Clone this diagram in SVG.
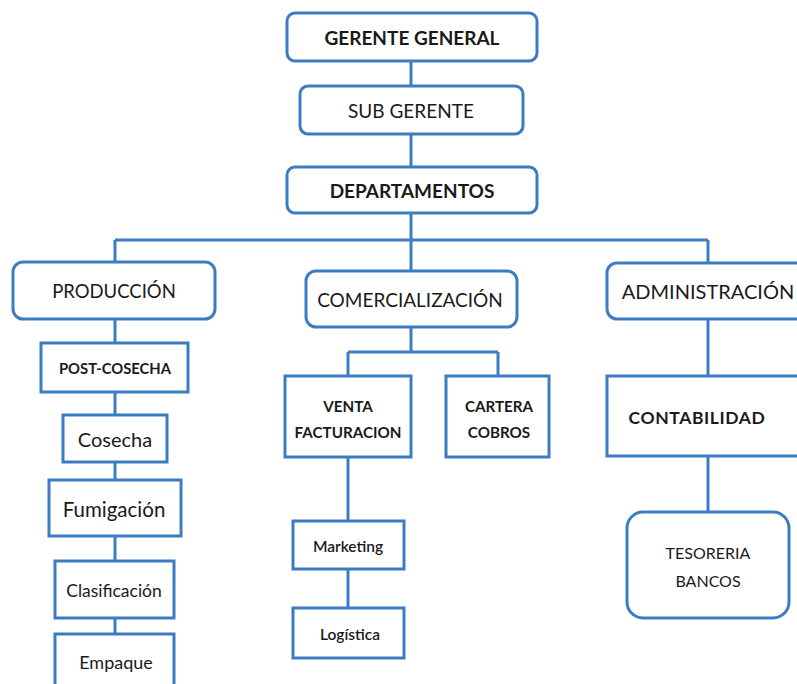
<svg xmlns="http://www.w3.org/2000/svg" width="797" height="684" viewBox="0 0 797 684">
<style>
.box{fill:#fff;stroke:#3b7cc3;stroke-width:3}
.ln{fill:none;stroke:#3b7cc3;stroke-width:3}
text{font-family:Lato,"Open Sans","Liberation Sans",sans-serif;fill:#1a1a1a;text-anchor:middle;dominant-baseline:central}
.b{font-weight:bold}
</style>
<rect width="797" height="684" fill="#fff"/>
<g id="connectors">
<path class="ln" d="M411 61V86M411 134V167M411 213V240M115 240H708M115 240V262M411 240V271M708 240V263"/>
<path class="ln" d="M115 319V343M115 392V415M115 462V480M115 536V561M115 618V634"/>
<path class="ln" d="M411 327V352M348 352H498M348 352V376M498 352V376M348 457V521M348 569V608"/>
<path class="ln" d="M708 319V376M708 456V512"/>
</g>
<g id="gerente"><rect class="box" x="287" y="13" width="250" height="48" rx="8"/><text class="b" x="412" y="37" font-size="19">GERENTE GENERAL</text></g>
<g id="subgerente"><rect class="box" x="300" y="86" width="223" height="48" rx="8"/><text x="411" y="110" font-size="19">SUB GERENTE</text></g>
<g id="departamentos"><rect class="box" x="287" y="167" width="250" height="46" rx="8"/><text class="b" x="412" y="190" font-size="19">DEPARTAMENTOS</text></g>
<g id="produccion"><rect class="box" x="13" y="262" width="202" height="57" rx="10"/><text x="114" y="291" font-size="18.5">PRODUCCIÓN</text></g>
<g id="comercializacion"><rect class="box" x="306" y="271" width="211" height="56" rx="10"/><text x="410" y="299" font-size="19">COMERCIALIZACIÓN</text></g>
<g id="administracion"><rect class="box" x="607" y="263" width="200" height="56" rx="10"/><text x="708" y="291" font-size="20">ADMINISTRACIÓN</text></g>
<g id="postcosecha"><rect class="box" x="41" y="343" width="147" height="49"/><text class="b" x="115" y="368" font-size="14.8">POST-COSECHA</text></g>
<g id="cosecha"><rect class="box" x="63" y="415" width="104" height="47"/><text x="115" y="439" font-size="20">Cosecha</text></g>
<g id="fumigacion"><rect class="box" x="49" y="480" width="132" height="56"/><text x="114" y="509" font-size="20.5">Fumigación</text></g>
<g id="clasificacion"><rect class="box" x="55" y="561" width="119" height="57"/><text x="114" y="590" font-size="17.5">Clasificación</text></g>
<g id="empaque"><rect class="box" x="55" y="634" width="119" height="70"/><text x="116" y="662" font-size="18">Empaque</text></g>
<g id="venta"><rect class="box" x="285" y="376" width="126" height="81"/><text class="b" x="348" y="406" font-size="15.2">VENTA</text><text class="b" x="348" y="432" font-size="15.2">FACTURACION</text></g>
<g id="cartera"><rect class="box" x="446" y="376" width="103" height="81"/><text class="b" x="499" y="406" font-size="15.2">CARTERA</text><text class="b" x="499" y="432" font-size="15.2">COBROS</text></g>
<g id="marketing"><rect class="box" x="293" y="521" width="111" height="48"/><text x="348" y="546" font-size="15.5" font-weight="600">Marketing</text></g>
<g id="logistica"><rect class="box" x="293" y="608" width="111" height="50"/><text x="350" y="634" font-size="15.5" font-weight="600">Logística</text></g>
<g id="contabilidad"><rect class="box" x="607" y="376" width="200" height="80"/><text class="b" x="697" y="417" font-size="17.5" letter-spacing="0.6">CONTABILIDAD</text></g>
<g id="tesoreria"><rect class="box" x="627" y="512" width="162" height="106" rx="16"/><text x="708" y="552" font-size="16">TESORERIA</text><text x="708" y="580" font-size="16">BANCOS</text></g>
</svg>
